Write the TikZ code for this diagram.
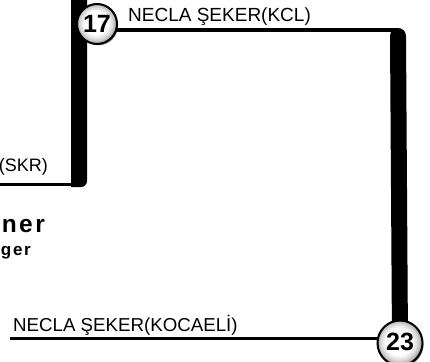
\documentclass[tikz,border=0pt]{standalone}
\usepackage{fontspec}
\setmainfont{Liberation Sans}
\usetikzlibrary{shadows}
\pgfdeclarelayer{bg}
\pgfsetlayers{bg,main}
\pgfdeclareradialshading{stationball}{\pgfpoint{-2bp}{2bp}}{color(0bp)=(white); color(15bp)=(white); color(21bp)=(gray!35); color(25bp)=(gray!75); color(50bp)=(gray!75)}
\begin{document}
\begin{tikzpicture}[x=1pt,y=1pt,
  thinline/.style={line width=3.2pt},
  thickline/.style={line width=16pt},
  station/.style={circle, draw=black, line width=2pt, shading=stationball,
    minimum size=40pt, inner sep=0pt, font=\fontsize{25}{25}\selectfont\bfseries,
    circular drop shadow={shadow xshift=1.3pt, shadow yshift=-1.5pt, fill=black, opacity=1, shadow scale=1}},
  lbl/.style={inner sep=0pt, font=\fontsize{19}{19}\selectfont},
  boldword/.style={inner sep=0pt, font=\fontsize{24.5}{24.5}\selectfont\bfseries\addfontfeature{LetterSpace=10}},
  boldsmall/.style={inner sep=0pt, font=\fontsize{17}{17}\selectfont\bfseries\addfontfeature{LetterSpace=10}},
]
\clip (0,-361) rectangle (430,0);
% stations
\node[station] (c17) at (97,-24) {17};
\node[station, minimum size=45pt] (c23) at (400,-343) {\raisebox{3pt}{23}};
% coordinates
\coordinate (ltop) at (79,5);
\coordinate (lbot) at (79,-187);
\coordinate (lin) at (0,-184.5);
\coordinate (rtop) at (398,-30);
\coordinate (bin) at (10,-338.5);
% labels
\node[lbl, anchor=base west] (kcl) at (128,-22) {NECLA ŞEKER(KCL)};
\node[lbl, anchor=base east, font=\fontsize{18}{18}\selectfont] (skr) at (48,-171) {(SKR)};
\node[lbl, anchor=base west, font=\fontsize{18.7}{18.7}\selectfont] (koc) at (13,-331) {NECLA ŞEKER(KOCAELİ)};
\node[boldword, anchor=base east] (ner) at (45,-232) {ner};
\node[boldsmall, anchor=base east] (ger) at (31,-255) {ger};
\begin{pgfonlayer}{bg}
  \fill (71,5) -- (71,-187) -- (81,-187) arc[start angle=-90,end angle=0,radius=6] -- (87,5) -- cycle;
  \draw[thinline] (lin) -- (lbot |- lin);
  \draw[thinline] (c17.center |- rtop) -- (rtop);
  \draw[thickline, line cap=round] ([yshift=-6pt]rtop) -- (c23.center);
  \draw[thinline] (bin) -- (c23.center |- bin);
\end{pgfonlayer}
\end{tikzpicture}
\end{document}
